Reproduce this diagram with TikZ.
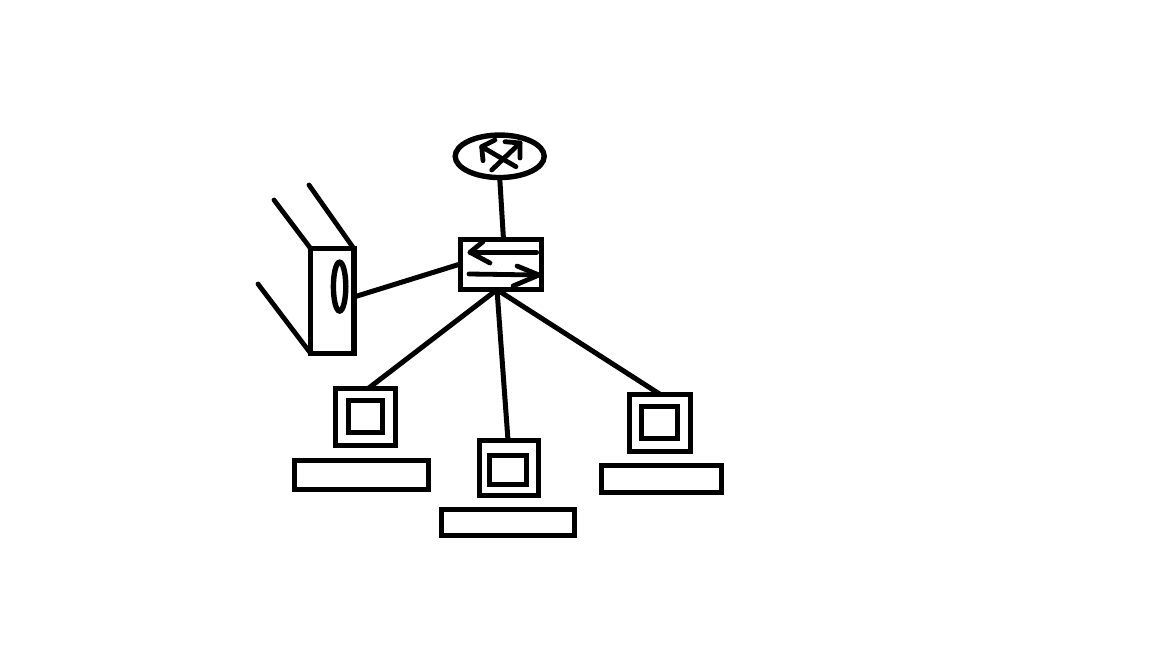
\documentclass[tikz,border=0pt]{standalone}
\usetikzlibrary{shapes.geometric}
\tikzset{
  ink/.style={line width=5.4pt,draw=black},
  box/.style={ink,rectangle,inner sep=0pt,outer sep=0pt,anchor=center},
  oval/.style={ink,ellipse,inner sep=0pt,outer sep=0pt,anchor=center},
  link/.style={line width=5pt,draw=black},
  wire/.style={line width=4.8pt,draw=black,line cap=round,line join=round},
}
\begin{document}
\begin{tikzpicture}[x=1pt,y=-1pt]
\useasboundingbox (0,0) rectangle (1152,648);
% router
\node[oval,minimum width=89pt,minimum height=42.5pt] (router) at (499.7,156.3) {};
\draw[wire] (491.7,170) -- (520,143);
\draw[wire] (505,141.7) -- (520,143) -- (520,158);
\draw[wire] (516,166.7) -- (481.7,146.7);
\draw[wire] (495,140) -- (481.7,146.7) -- (483,160.7);
% switch
\node[box,minimum width=81.4pt,minimum height=50pt] (switch) at (501,264.7) {};
\draw[wire] (536.7,252.3) -- (470,252.3);
\draw[wire] (483,241.7) -- (470,252.3) -- (490,263);
\draw[wire] (469,274) -- (539,275);
\draw[wire] (517,266) -- (539,275) -- (513,286);
% firewall
\node[box,minimum width=43.2pt,minimum height=104.8pt] (fw) at (332.3,301) {};
\node[oval,minimum width=12.4pt,minimum height=48.8pt] (slot) at (339.6,286.6) {};
\coordinate (fwa) at (274,200);
\coordinate (fwb) at (309,185);
\coordinate (fwc) at (258,284);
\draw[wire] (fw.north west) -- (fwa);
\draw[wire] (fw.north east) -- (fwb);
\draw[wire] (fw.south west) -- (fwc);
% computers
\node[box,minimum width=59.8pt,minimum height=57.1pt] (mon1) at (365.5,416.8) {};
\node[box,minimum width=34.4pt,minimum height=32.4pt] (scr1) at (365.5,416.5) {};
\node[box,minimum width=134.4pt,minimum height=29.4pt] (kb1) at (361.5,475) {};
\node[box,minimum width=59.4pt,minimum height=55.4pt] (mon2) at (509,468) {};
\node[box,minimum width=37.4pt,minimum height=29.4pt] (scr2) at (508,470) {};
\node[box,minimum width=133.4pt,minimum height=26.4pt] (kb2) at (508,522.5) {};
\node[box,minimum width=61.4pt,minimum height=57.4pt] (mon3) at (660,423) {};
\node[box,minimum width=36.4pt,minimum height=32.4pt] (scr3) at (659.5,422.5) {};
\node[box,minimum width=120.4pt,minimum height=27.4pt] (kb3) at (661.5,479) {};
% connectors
\draw[link] (router.south) -- ([xshift=2.5pt]switch.north);
\draw[link] (switch.west |- 0,264) -- (fw.east |- 0,297);
\draw[link] ([xshift=-4pt]switch.south) -- ([xshift=3pt]mon1.north);
\draw[link] ([xshift=-4pt]switch.south) -- ([xshift=-1pt]mon2.north);
\draw[link] ([xshift=-4pt]switch.south) -- (mon3.north);
\end{tikzpicture}
\end{document}
